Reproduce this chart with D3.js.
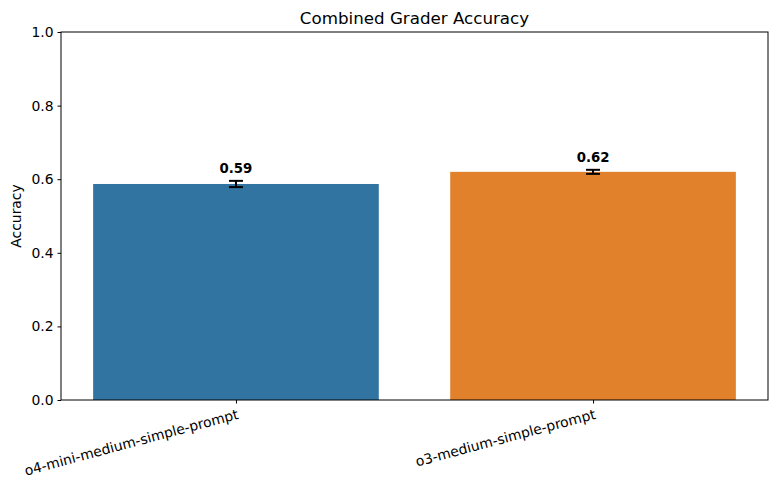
<!DOCTYPE html>
<html><head><meta charset="utf-8">
<script src="https://cdn.jsdelivr.net/npm/d3@7"></script>
<style>body{margin:0;background:#fff;} text{font-family:"DejaVu Sans",sans-serif;}</style>
</head><body>
<svg id="c" width="778" height="490"></svg>
<script>
const categories = ["o4-mini-medium-simple-prompt", "o3-medium-simple-prompt"];
const values = [0.587, 0.620];
const errors = [0.0085, 0.0055];
const labels = ["0.59", "0.62"];
const colors = ["#3274A1", "#E1812C"];
const yTicks = [0, 0.2, 0.4, 0.6, 0.8, 1.0];

const svg = d3.select("#c");
const L = 61, R = 768, T = 32, B = 400;
const x = d3.scaleLinear().domain([-0.49, 1.49]).range([L, R]);
const y = d3.scaleLinear().domain([0, 1]).range([B, T]);
const bw = 0.8;

svg.append("rect").attr("width",778).attr("height",490).attr("fill","#fff");

svg.selectAll("rect.bar").data(values).enter().append("rect").attr("class","bar")
  .attr("x",(d,i)=>x(i-bw/2)).attr("width",(d,i)=>x(i+bw/2)-x(i-bw/2))
  .attr("y",d=>y(d)).attr("height",d=>y(0)-y(d))
  .attr("fill",(d,i)=>colors[i]);

// error bars
const eg = svg.append("g").attr("stroke","#000").attr("stroke-width",2);
values.forEach((v,i)=>{
  const cx = x(i);
  eg.append("line").attr("x1",cx).attr("x2",cx).attr("y1",y(v-errors[i])).attr("y2",y(v+errors[i]));
  [v-errors[i], v+errors[i]].forEach(e=>{
    eg.append("line").attr("x1",cx-7).attr("x2",cx+7).attr("y1",y(e)).attr("y2",y(e));
  });
});

// value labels
svg.selectAll("text.val").data(values).enter().append("text").attr("class","val")
  .attr("x",(d,i)=>x(i)).attr("y",(d,i)=>y(d+errors[i])-8)
  .attr("text-anchor","middle").attr("font-size","13.3px").attr("font-weight","bold")
  .text((d,i)=>labels[i]);

// y axis
const ya = svg.append("g").attr("transform",`translate(${L},0)`)
  .call(d3.axisLeft(y).tickValues(yTicks).tickFormat(d3.format(".1f")).tickSize(3.5).tickPadding(4));
ya.select(".domain").remove();
ya.selectAll("text").attr("font-size","13.9px").attr("fill","#000").style("font-family","DejaVu Sans");
ya.selectAll("line").attr("stroke","#000");

// x axis
const xa = svg.append("g").attr("transform",`translate(0,${B})`)
  .call(d3.axisBottom(x).tickValues([0,1]).tickFormat(i=>categories[i]).tickSize(3.5).tickPadding(4));
xa.select(".domain").remove();
xa.selectAll("line").attr("stroke","#000");
xa.selectAll("text").attr("font-size","13.9px").attr("fill","#000").style("font-family","DejaVu Sans")
  .attr("text-anchor","end").attr("dy","0.8em").attr("transform","rotate(-15)");
xa.selectAll(".tick text").attr("y",7.5).attr("x",-2);

// frame
svg.append("rect").attr("x",L).attr("y",T).attr("width",R-L).attr("height",B-T)
  .attr("fill","none").attr("stroke","#000").attr("stroke-width",1);

svg.append("text").attr("x",(L+R)/2).attr("y",24).attr("text-anchor","middle")
  .attr("font-size","16.7px").text("Combined Grader Accuracy");
svg.append("text").attr("transform",`translate(21,${(T+B)/2}) rotate(-90)`)
  .attr("text-anchor","middle").attr("font-size","13.9px").text("Accuracy");
</script>
</body></html>
